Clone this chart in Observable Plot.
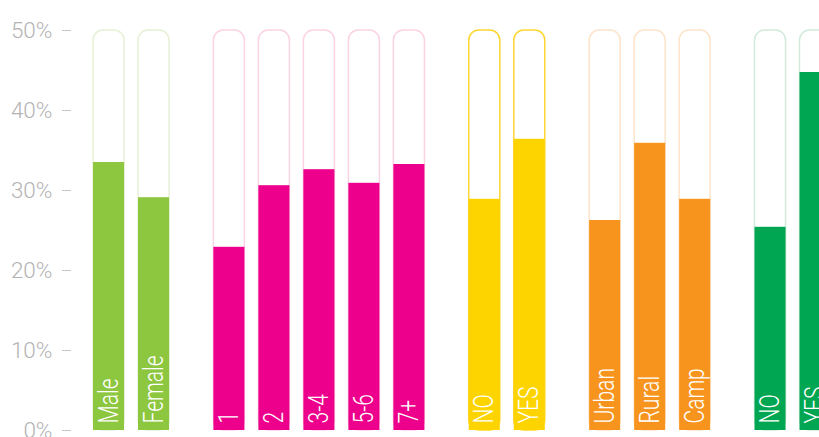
<!DOCTYPE html>
<html>
<head>
<meta charset="utf-8">
<script src="https://cdn.jsdelivr.net/npm/d3@7"></script>
<script src="https://cdn.jsdelivr.net/npm/@observablehq/plot@0.6"></script>
<style>
  html, body { margin: 0; padding: 0; background: #fff; }
  #chart { width: 819px; height: 437px; }
</style>
</head>
<body>
<div id="chart"></div>
<script>
// Share of respondents (%) by category
const labels = ["Male", "Female", "1", "2", "3-4", "5-6", "7+", "NO", "YES", "Urban", "Rural", "Camp", "NO", "YES"];
const values = [33.5, 29.1, 22.9, 30.6, 32.6, 30.9, 33.25, 28.9, 36.4, 26.25, 35.9, 28.9, 25.4, 44.75];
const groupOf = [0, 0, 1, 1, 1, 1, 1, 2, 2, 3, 3, 3, 4, 4];
const groupFills = ["#8dc63f", "#ec008c", "#fed400", "#f7941d", "#00a651"];
const groupOutlines = ["#e6f1d6", "#fbd3e5", "#fed633", "#fde4cb", "#d2eadb"];
const yTicks = [0, 10, 20, 30, 40, 50];

// Bars sit on consecutive slots, with a wider gap between groups
const groupGap = 0.675;
const barWidth = 0.69;
const rows = labels.map((label, i) => ({
  label,
  value: values[i],
  group: groupOf[i],
  slot: i + groupOf[i] * groupGap
}));

const chart = Plot.plot({
  width: 819,
  height: 437,
  marginTop: 30,
  marginBottom: 7,
  marginLeft: 71,
  marginRight: 0,
  x: { domain: [-22 / 45, 726 / 45], axis: null },
  y: { domain: [0, 50], axis: null },
  color: { type: "identity" },
  style: { fontFamily: "Roboto, 'Noto Sans', sans-serif", background: "#fff" },
  marks: [
    Plot.axisY({
      ticks: yTicks,
      tickFormat: d => d + "%",
      tickSize: 9,
      tickPadding: 10,
      fontSize: 22.5,
      fontWeight: 300,
      stroke: "#c6c6c6",
      fill: "#b3b3b3",
      label: null
    }),
    // full-height rounded track behind each bar
    Plot.rectY(rows, {
      x1: "slot",
      x2: d => d.slot + barWidth,
      y1: 0,
      y2: 50,
      fill: "#fff",
      stroke: d => groupOutlines[d.group],
      strokeWidth: 1.5,
      rx: 10
    }),
    Plot.rectY(rows, {
      x1: "slot",
      x2: d => d.slot + barWidth,
      y1: 0,
      y2: "value",
      fill: d => groupFills[d.group]
    }),
    Plot.text(rows, {
      x: d => d.slot + barWidth / 2,
      y: 0,
      text: "label",
      rotate: -90,
      textAnchor: "start",
      lineAnchor: "middle",
      dy: -7,
      fill: "#fff",
      fontSize: 27,
      fontWeight: 300,
      className: "bar-label"
    })
  ]
});

// narrow the vertical labels along their reading direction
chart.querySelectorAll(".bar-label text").forEach(t => {
  const tr = t.getAttribute("transform");
  if (tr) t.setAttribute("transform", tr + " scale(0.78,1)");
});

document.getElementById("chart").append(chart);
</script>
</body>
</html>
